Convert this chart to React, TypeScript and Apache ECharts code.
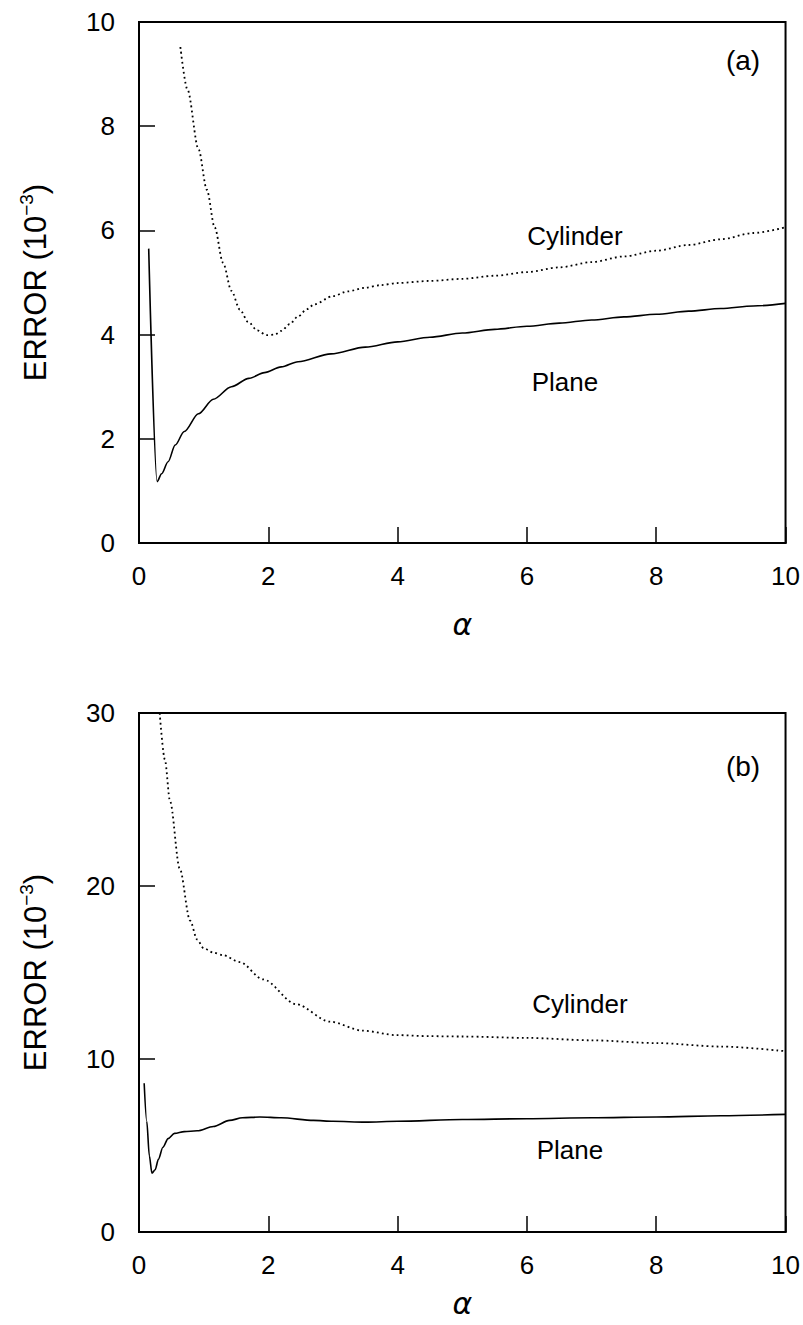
import React, { useEffect, useRef } from "react";
import * as echarts from "echarts";

// Panel (a)
const planeA_x = [0.15, 0.28, 0.35, 0.45, 0.56, 0.7, 0.92, 1.15, 1.43, 1.7, 1.94, 2.2, 2.46, 2.97, 3.5, 4, 4.5, 5, 5.5, 6, 6.5, 7, 7.5, 8, 8.5, 9, 9.5, 10];
const planeA_y = [5.65, 1.18, 1.33, 1.56, 1.88, 2.14, 2.48, 2.76, 3.0, 3.16, 3.27, 3.38, 3.48, 3.63, 3.76, 3.86, 3.95, 4.03, 4.1, 4.16, 4.22, 4.28, 4.34, 4.39, 4.45, 4.5, 4.55, 4.6];
const cylA_x = [0.64, 0.75, 0.92, 1.05, 1.17, 1.3, 1.43, 1.56, 1.69, 1.83, 1.97, 2.1, 2.2, 2.33, 2.46, 2.6, 2.71, 3.0, 3.23, 3.5, 3.74, 4.0, 4.5, 5, 5.5, 6, 6.5, 7, 7.5, 8, 8.5, 9, 9.5, 10];
const cylA_y = [9.52, 8.7, 7.56, 6.78, 6.06, 5.38, 4.84, 4.48, 4.24, 4.08, 3.99, 4.0, 4.07, 4.2, 4.35, 4.49, 4.58, 4.74, 4.83, 4.9, 4.95, 4.99, 5.03, 5.07, 5.13, 5.2, 5.29, 5.39, 5.5, 5.61, 5.72, 5.83, 5.95, 6.06];

// Panel (b)
const planeB_x = [0.08, 0.12, 0.16, 0.2, 0.25, 0.3, 0.37, 0.45, 0.55, 0.7, 0.9, 1.15, 1.4, 1.6, 1.87, 2.2, 2.7, 3, 3.5, 4, 5, 6, 7, 8, 9, 10];
const planeB_y = [8.6, 6.4, 4.4, 3.4, 3.6, 4.2, 4.9, 5.4, 5.7, 5.8, 5.85, 6.1, 6.45, 6.6, 6.65, 6.6, 6.45, 6.4, 6.35, 6.4, 6.5, 6.55, 6.6, 6.65, 6.72, 6.8];
const cylB_x = [0.32, 0.4, 0.48, 0.63, 0.79, 0.9, 1.0, 1.15, 1.3, 1.56, 1.92, 2.43, 2.95, 3.46, 3.98, 4.49, 5, 6, 7, 8, 9, 10];
const cylB_y = [30, 27.3, 24.9, 21.0, 18.0, 16.9, 16.4, 16.15, 16.0, 15.6, 14.6, 13.17, 12.16, 11.64, 11.38, 11.32, 11.3, 11.22, 11.08, 10.92, 10.72, 10.45];

const xTicksInterval = 2;
const yIntervalA = 2;
const yIntervalB = 10;

const FONT = "Liberation Sans";

const pairs = (xs: number[], ys: number[]) => xs.map((x, i) => [x, ys[i]]);

export default function App() {
  const ref = useRef<HTMLDivElement>(null);
  useEffect(() => {
    if (!ref.current) return;
    const chart = echarts.init(ref.current, undefined, { renderer: "svg" });
    const xAxisBase = (gridIndex: number, nameGap: number) => ({
      type: "value",
      gridIndex,
      min: 0,
      max: 10,
      interval: xTicksInterval,
      name: "α",
      nameLocation: "middle",
      nameGap,
      nameTextStyle: { fontFamily: "DejaVu Sans", fontStyle: "italic", fontSize: 30, color: "#000", lineHeight: 30 },
      axisLine: { show: true, lineStyle: { color: "#000", width: 2 } },
      axisTick: { show: true, inside: true, length: 16, lineStyle: { color: "#000", width: 1.5 } },
      axisLabel: { fontFamily: FONT, fontSize: 26, color: "#000", margin: 20 },
      splitLine: { show: false },
    });
    const yName = "{a|ERROR (10}{s|−3}{a|)}";
    const yAxisBase = (gridIndex: number, max: number, interval: number) => ({
      type: "value",
      gridIndex,
      min: 0,
      max,
      interval,
      name: yName,
      nameLocation: "middle",
      nameGap: 86,
      nameTextStyle: {
        color: "#000",
        rich: {
          a: { fontFamily: FONT, fontSize: 31, color: "#000", lineHeight: 36 },
          s: { fontFamily: FONT, fontSize: 19, color: "#000", verticalAlign: "top", lineHeight: 20 },
        },
      },
      axisLine: { show: true, lineStyle: { color: "#000", width: 2 } },
      axisTick: { show: true, inside: true, length: 16, lineStyle: { color: "#000", width: 1.5 } },
      axisLabel: { fontFamily: FONT, fontSize: 26, color: "#000", margin: 24 },
      splitLine: { show: false },
    });
    const solid = { color: "#000", width: 1.6, type: "solid" };
    const dotted = { color: "#000", width: 1.8, type: [1.8, 3.2] };
    const txt = (x: number, y: number, text: string, size = 26) => ({
      type: "text",
      x,
      y,
      style: { text, fontFamily: FONT, fontSize: size, fill: "#000", textAlign: "center", textVerticalAlign: "middle" },
    });
    chart.setOption({
      animation: false,
      backgroundColor: "#fff",
      grid: [
        { left: 139, top: 22, width: 650, height: 521, show: true, borderColor: "#000", borderWidth: 2 },
        { left: 139, top: 713, width: 650, height: 519, show: true, borderColor: "#000", borderWidth: 2 },
      ],
      xAxis: [xAxisBase(0, 66), xAxisBase(1, 56)],
      yAxis: [yAxisBase(0, 10, yIntervalA), yAxisBase(1, 30, yIntervalB)],
      series: [
        { type: "line", xAxisIndex: 0, yAxisIndex: 0, data: pairs(planeA_x, planeA_y), showSymbol: false, smooth: 0.3, smoothMonotone: "x", lineStyle: solid },
        { type: "line", xAxisIndex: 0, yAxisIndex: 0, data: pairs(cylA_x, cylA_y), showSymbol: false, smooth: 0.3, smoothMonotone: "x", lineStyle: dotted },
        { type: "line", xAxisIndex: 1, yAxisIndex: 1, data: pairs(planeB_x, planeB_y), showSymbol: false, smooth: 0.3, smoothMonotone: "x", lineStyle: solid },
        { type: "line", xAxisIndex: 1, yAxisIndex: 1, data: pairs(cylB_x, cylB_y), showSymbol: false, smooth: 0.3, smoothMonotone: "x", lineStyle: dotted },
      ],
      graphic: [
        txt(743, 60, "(a)", 28),
        txt(575, 236, "Cylinder"),
        txt(565, 382, "Plane"),
        txt(743, 766, "(b)", 28),
        txt(580, 1004, "Cylinder"),
        txt(570, 1150, "Plane"),
      ],
    });
    return () => chart.dispose();
  }, []);
  return <div ref={ref} style={{ position: "absolute", left: 0, top: 0, width: 803, height: 1325 }} />;
}
